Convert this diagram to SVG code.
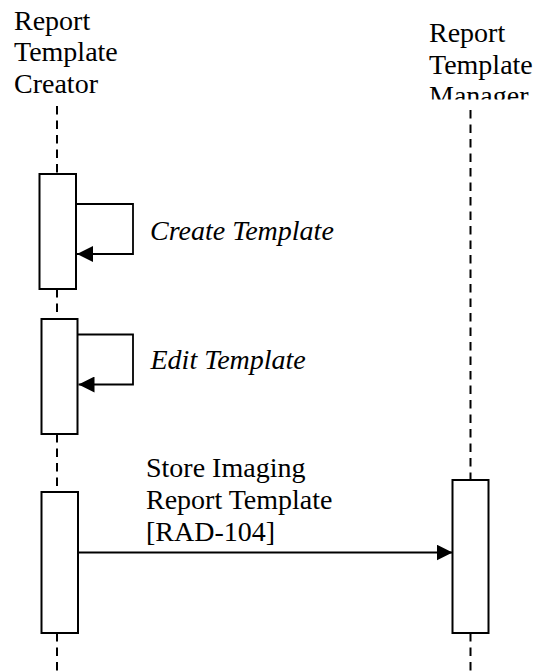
<svg xmlns="http://www.w3.org/2000/svg" width="533" height="672" viewBox="0 0 533 672">
<style>
text{font-family:"Liberation Serif","Times New Roman",Times,serif;font-size:28px;fill:#000}
.it{font-style:italic}
.life{stroke:#000;stroke-width:2;stroke-dasharray:8.5,6;fill:none}
.box{fill:#fff;stroke:#000;stroke-width:2}
.msg{stroke:#000;stroke-width:1.8;fill:none}
</style>
<defs>
<marker id="ah" viewBox="0 0 16 16" refX="16" refY="8" markerWidth="16" markerHeight="16" markerUnits="userSpaceOnUse" orient="auto">
<path d="M0,0 L16,8 L0,16 Z" fill="#000"/>
</marker>
<clipPath id="clipMgr"><rect x="400" y="0" width="133" height="99.5"/></clipPath>
</defs>
<g id="lifelines">
<line class="life" x1="57" y1="106" x2="57" y2="174"/>
<line class="life" x1="57" y1="289" x2="57" y2="319"/>
<line class="life" x1="57" y1="434" x2="57" y2="492"/>
<line class="life" x1="57" y1="633" x2="57" y2="672"/>
<line class="life" x1="470.5" y1="110" x2="470.5" y2="480"/>
<line class="life" x1="470.5" y1="633" x2="470.5" y2="672"/>
</g>
<g id="creator">
<text x="14" y="29.5">Report</text>
<text x="14" y="61">Template</text>
<text x="14" y="92.5">Creator</text>
</g>
<g id="manager">
<g clip-path="url(#clipMgr)">
<text x="429" y="42">Report</text>
<text x="429" y="73.5">Template</text>
<text x="429" y="105">Manager</text>
</g>
</g>
<g id="act-create"><rect class="box" x="39.5" y="174" width="36.5" height="115"/></g>
<g id="act-edit"><rect class="box" x="41.5" y="319" width="36" height="115"/></g>
<g id="act-store"><rect class="box" x="41.5" y="492" width="36.5" height="141"/></g>
<g id="act-manager"><rect class="box" x="452.5" y="480" width="36" height="153"/></g>
<g id="connectors">
<path class="msg" d="M76,204 H133 V254 H77" marker-end="url(#ah)"/>
<path class="msg" d="M77.5,334.5 H133 V384.5 H78.5" marker-end="url(#ah)"/>
<line class="msg" x1="78" y1="552.5" x2="452.5" y2="552.5" marker-end="url(#ah)"/>
</g>
<g id="labels">
<text class="it" x="150" y="240">Create Template</text>
<text class="it" x="150.5" y="369">Edit Template</text>
<text x="146" y="477">Store Imaging</text>
<text x="146" y="509">Report Template</text>
<text x="146" y="540.5">[RAD-104]</text>
</g>
</svg>
